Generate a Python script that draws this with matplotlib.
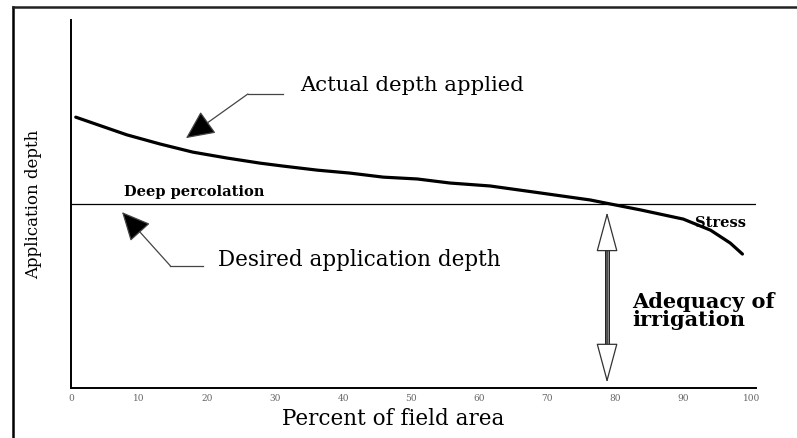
import numpy as np
import matplotlib
matplotlib.use('Agg')
import matplotlib.pyplot as plt
import matplotlib.patheffects as pe
from matplotlib.lines import Line2D

# percent of field area vs application depth (relative units)
field_pct = [0.7, 3.2, 8.2, 13.1, 17.9, 22.9, 27.8, 31.2, 36.2, 41.0, 45.9,
             50.9, 55.7, 61.6, 69.0, 76.3, 79.3, 83.7, 90.0, 94.0, 96.9, 98.7]
actual_depth = [73.6, 72.0, 68.8, 66.3, 64.1, 62.5, 61.1, 60.3, 59.2, 58.4, 57.3,
                56.8, 55.7, 54.9, 53.0, 51.1, 50.0, 48.4, 45.9, 42.9, 39.4, 36.4]
desired_depth = 50
xticks = [0, 10, 20, 30, 40, 50, 60, 70, 80, 90, 100]
adequacy_x = 78.8

serif = 'DejaVu Serif'

fig = plt.figure(figsize=(7.97, 4.38), dpi=100)
ax = fig.add_axes([0.0891, 0.1142, 0.8595, 0.8401])

ax.plot(field_pct, actual_depth, color='black', lw=2.3, solid_capstyle='round',
        solid_joinstyle='round')
ax.axhline(desired_depth, color='black', lw=0.9)

ax.set_xlim(0, 100.7)
ax.set_ylim(0, 100)
ax.set_xticks(xticks)
ax.set_xticklabels([str(t) for t in xticks], family=serif, fontsize=6.5, color='#666666')
ax.tick_params(axis='x', length=0, pad=4)
ax.set_yticks([])
for s in ['top', 'right']:
    ax.spines[s].set_visible(False)
for s in ['left', 'bottom']:
    ax.spines[s].set_linewidth(1.4)

ax.set_xlabel('Percent of field area', family=serif, fontsize=15.5)
ax.xaxis.set_label_coords(0.47, -0.055)
ax.set_ylabel('Application depth', family=serif, fontsize=12)
ax.yaxis.set_label_coords(-0.042, 0.5)

# callouts
ax.text(33.7, 82.1, 'Actual depth applied', family=serif, fontsize=15.3, va='center')
ax.plot([26.0, 31.2], [79.9, 79.9], color='#444444', lw=0.9)
ax.annotate('', xy=(16.9, 67.9), xytext=(26.0, 79.9),
            arrowprops=dict(arrowstyle='-|>,head_length=18,head_width=8.5', mutation_scale=1,
                            fc='black', ec='#444444', lw=0.9, shrinkA=0, shrinkB=0))

ax.text(21.6, 34.8, 'Desired application depth', family=serif, fontsize=15.5, va='center')
ax.plot([14.6, 19.4], [33.2, 33.2], color='#444444', lw=0.9)
ax.annotate('', xy=(7.5, 47.8), xytext=(14.6, 33.2),
            arrowprops=dict(arrowstyle='-|>,head_length=18,head_width=8.5', mutation_scale=1,
                            fc='black', ec='#444444', lw=0.9, shrinkA=0, shrinkB=0))

ax.text(7.8, 53.3, 'Deep percolation', family=serif, fontsize=10.5, weight='bold',
        va='center')
ax.text(91.8, 44.8, 'Stress', family=serif, fontsize=10.5, weight='bold', va='center')
ax.text(82.5, 20.9, 'Adequacy of\nirrigation', family=serif, fontsize=15,
        weight='bold', va='center', linespacing=0.9)

# double-headed adequacy arrow
ax.annotate('', xy=(adequacy_x, 47.8), xytext=(adequacy_x, 1.4),
            arrowprops=dict(arrowstyle='<|-|>,head_length=26,head_width=7', mutation_scale=1,
                            fc='white', ec='#333333', lw=0.9, shrinkA=0, shrinkB=0))
ax.plot([adequacy_x, adequacy_x], [11.0, 38.2], color='#888888', lw=2.2,
        path_effects=[pe.Stroke(linewidth=3.6, foreground='#222222'), pe.Normal()])

# outer frame (left and top only)
fig.add_artist(Line2D([0.0163, 0.0163], [0.0, 0.984], color='black', lw=1.8,
                      transform=fig.transFigure))
fig.add_artist(Line2D([0.0163, 1.0], [0.984, 0.984], color='#222222', lw=1.8,
                      transform=fig.transFigure))

fig.savefig('out.png', dpi=100)
